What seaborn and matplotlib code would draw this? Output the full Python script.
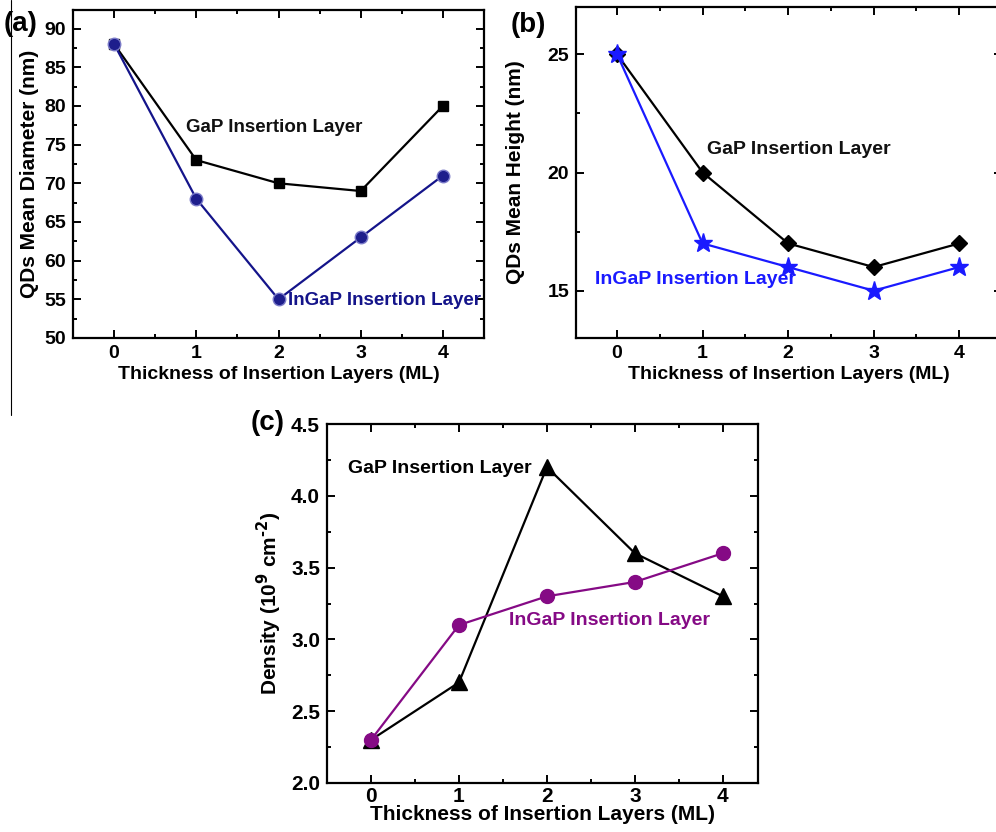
import matplotlib
matplotlib.use("Agg")
import matplotlib.pyplot as plt
from matplotlib.lines import Line2D
from matplotlib.ticker import MultipleLocator
import seaborn as sns
import pandas as pd

sns.set_theme(style="ticks")
plt.rcParams['font.family'] = ['Liberation Sans', 'DejaVu Sans']
plt.rcParams['font.weight'] = 'bold'
plt.rcParams['text.color'] = 'black'
plt.rcParams['axes.labelcolor'] = 'black'
plt.rcParams['xtick.color'] = 'black'
plt.rcParams['ytick.color'] = 'black'
plt.rcParams['mathtext.default'] = 'bf'

# ---- data ----
thickness = [0, 1, 2, 3, 4]
diam_gap = [88, 73, 70, 69, 80]
diam_ingap = [88, 68, 55, 63, 71]
height_gap = [25, 20, 17, 16, 17]
height_ingap = [25, 17, 16, 15, 16]
dens_gap = [2.3, 2.7, 4.2, 3.6, 3.3]
dens_ingap = [2.3, 3.1, 3.3, 3.4, 3.6]

xlabel = "Thickness of Insertion Layers (ML)"
gap_label = "GaP Insertion Layer"
ingap_label = "InGaP Insertion Layer"

fig = plt.figure(figsize=(9.96, 8.32), dpi=100)

ax_a = fig.add_axes([73/996, 1-338/832, 411/996, 328/832])
ax_b = fig.add_axes([576/996, 1-338/832, 426/996, 331/832])
ax_c = fig.add_axes([327/996, 1-783/832, 431/996, 359/832])


def style(ax, ymaj, ymin, fs=14, xpad=5):
    for s in ax.spines.values():
        s.set_linewidth(1.6)
        s.set_color('black')
    ax.xaxis.set_major_locator(MultipleLocator(1))
    ax.xaxis.set_minor_locator(MultipleLocator(0.5))
    ax.yaxis.set_major_locator(MultipleLocator(ymaj))
    ax.yaxis.set_minor_locator(MultipleLocator(ymin))
    ax.tick_params(which='both', direction='in', top=True, right=True,
                   width=1.4, colors='black')
    ax.tick_params(which='major', length=6, labelsize=fs, pad=5)
    ax.tick_params(axis='x', which='major', pad=xpad)
    ax.tick_params(which='minor', length=3)
    ax.set_xlabel(xlabel, fontsize=fs, fontweight='bold', labelpad=3, color='black')


def line(ax, y, color, marker, ms, mfc=None, mec=None):
    df = pd.DataFrame({'x': thickness, 'y': y})
    sns.lineplot(data=df, x='x', y='y', ax=ax, color=color, marker=marker,
                 markersize=ms, linewidth=1.6,
                 markerfacecolor=mfc if mfc else color,
                 markeredgecolor=mec if mec else color, markeredgewidth=1.0)


# (a)
line(ax_a, diam_gap, 'black', 's', 7)
line(ax_a, diam_ingap, '#14148a', 'o', 9, mfc='#1e1e8c', mec='#7a7ac8')
ax_a.set_xlim(-0.5, 4.5)
ax_a.set_ylim(50, 92.4)
style(ax_a, 5, 2.5, 14)
ax_a.set_ylabel("QDs Mean Diameter (nm)", fontsize=15, fontweight='bold', labelpad=4)
ax_a.text(0.88, 77.2, gap_label, fontsize=13.5, fontweight='bold', color='#111111', va='center')
ax_a.text(2.11, 54.9, ingap_label, fontsize=13.5, fontweight='bold', color='#14148a', va='center')

# (b)
line(ax_b, height_gap, 'black', 'D', 8)
line(ax_b, height_ingap, '#1a1aff', '*', 14)
ax_b.set_xlim(-0.48, 4.5)
ax_b.set_ylim(13, 27)
style(ax_b, 5, 2.5, 14)
ax_b.set_ylabel("QDs Mean Height (nm)", fontsize=15, fontweight='bold', labelpad=16)
ax_b.text(1.05, 20.97, gap_label, fontsize=14, fontweight='bold', color='#111111', va='center')
ax_b.text(-0.26, 15.47, ingap_label, fontsize=14, fontweight='bold', color='#1a1aff', va='center')

# (c)
line(ax_c, dens_gap, 'black', '^', 11)
line(ax_c, dens_ingap, '#850a85', 'o', 10)
ax_c.set_xlim(-0.5, 4.4)
ax_c.set_ylim(2.0, 4.5)
style(ax_c, 0.5, 0.25, 15, xpad=3)
ax_c.set_ylabel(r"Density (10$^{9}$ cm$^{\text{-}2}$)", fontsize=15, fontweight='bold', labelpad=5)
ax_c.xaxis.labelpad = -1
ax_c.text(-0.26, 4.19, gap_label, fontsize=14, fontweight='bold', color='black', va='center')
ax_c.text(1.57, 3.135, ingap_label, fontsize=14, fontweight='bold', color='#850a85', va='center')

for ax in (ax_a, ax_b, ax_c):
    for lab in ax.get_xticklabels() + ax.get_yticklabels():
        lab.set_fontweight('bold')
        lab.set_color('black')

# panel labels
fig.text(4/996, 1-24/832, "(a)", fontsize=20, fontweight='bold', va='center', ha='left')
fig.text(511/996, 1-25/832, "(b)", fontsize=20, fontweight='bold', va='center', ha='left')
fig.text(251/996, 1-423/832, "(c)", fontsize=20, fontweight='bold', va='center', ha='left')

# thin vertical separator line at the left edge
fig.add_artist(Line2D([11/996, 11/996], [1-415/832, 1.0], color='black', linewidth=0.8,
                      transform=fig.transFigure))

fig.savefig("out.png", dpi=100)
